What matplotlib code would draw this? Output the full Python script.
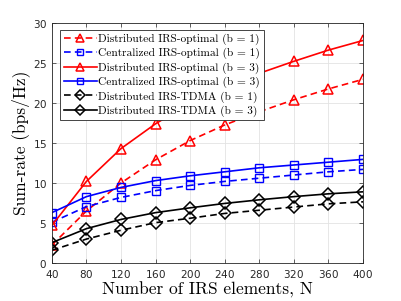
import matplotlib.pyplot as plt

# Numero de elementos IRS
N = [40, 80, 120, 160, 200, 240, 280, 320, 360, 400]

dist_opt_b1 = [2.25, 6.5, 10.0, 12.9, 15.3, 17.25, 18.9, 20.4, 21.75, 22.95]
cent_opt_b1 = [5.1, 7.05, 8.2, 9.05, 9.7, 10.2, 10.6, 11.0, 11.4, 11.7]
dist_opt_b3 = [4.7, 10.2, 14.3, 17.4, 20.0, 22.0, 23.7, 25.2, 26.6, 27.8]
cent_opt_b3 = [6.3, 8.3, 9.45, 10.3, 10.9, 11.4, 11.9, 12.25, 12.6, 12.95]
tdma_b1 = [1.6, 3.0, 4.1, 5.05, 5.6, 6.2, 6.6, 7.0, 7.4, 7.65]
tdma_b3 = [2.55, 4.3, 5.45, 6.3, 6.9, 7.45, 7.9, 8.3, 8.65, 8.9]

plt.rcParams['mathtext.fontset'] = 'cm'
plt.rcParams['axes.formatter.use_mathtext'] = True

fig = plt.figure(figsize=(4.02, 3.01), dpi=100)
ax = fig.add_axes([0.129, 0.126, 0.774, 0.798])

lw = 1.2
ax.plot(N, dist_opt_b1, color="red", linestyle=(0, (4, 2.5)), lw=lw, marker="^",
        ms=7, mfc="none", mew=1.1, label="Distributed IRS-optimal (b = 1)")
ax.plot(N, cent_opt_b1, color="blue", linestyle=(0, (4, 2.5)), lw=lw, marker="s",
        ms=5.5, mfc="none", mew=1.0, label="Centralized IRS-optimal (b = 1)")
ax.plot(N, dist_opt_b3, color="red", linestyle="-", lw=lw, marker="^",
        ms=7, mfc="none", mew=1.1, label="Distributed IRS-optimal (b = 3)")
ax.plot(N, cent_opt_b3, color="blue", linestyle="-", lw=lw, marker="s",
        ms=5.5, mfc="none", mew=1.0, label="Centralized IRS-optimal (b = 3)")
ax.plot(N, tdma_b1, color="black", linestyle=(0, (4, 2.5)), lw=lw, marker="D",
        ms=6, mfc="none", mew=1.1, label="Distributed IRS-TDMA (b = 1)")
ax.plot(N, tdma_b3, color="black", linestyle="-", lw=lw, marker="D",
        ms=6, mfc="none", mew=1.1, label="Distributed IRS-TDMA (b = 3)")

ax.set_xlim(40, 400)
ax.set_ylim(0, 30)
ax.set_xticks(N)
ax.set_yticks([0, 5, 10, 15, 20, 25, 30])
ax.grid(True, color="#e3e3e3", lw=0.6)
ax.set_axisbelow(True)
ax.tick_params(direction="in", top=True, right=True, labelsize=7.5,
               colors="#262626", length=3, width=0.5)
for s in ax.spines.values():
    s.set_linewidth(0.6)
    s.set_color("#262626")

ax.set_xlabel("Number of IRS elements, N", fontsize=12.5, family="cmr10", labelpad=1)
ax.set_ylabel("Sum-rate (bps/Hz)", fontsize=12.5, family="cmr10", labelpad=2)

leg = ax.legend(loc="upper left", bbox_to_anchor=(0.027, 0.97),
                prop={"family": "cmr10", "size": 8.2}, fancybox=False,
                framealpha=1, edgecolor="#262626", borderpad=0.3,
                labelspacing=0.27, handlelength=2.9, handletextpad=0.15,
                borderaxespad=0, markerscale=0.8)
leg.get_frame().set_linewidth(0.6)

plt.savefig("out.png", dpi=100)
